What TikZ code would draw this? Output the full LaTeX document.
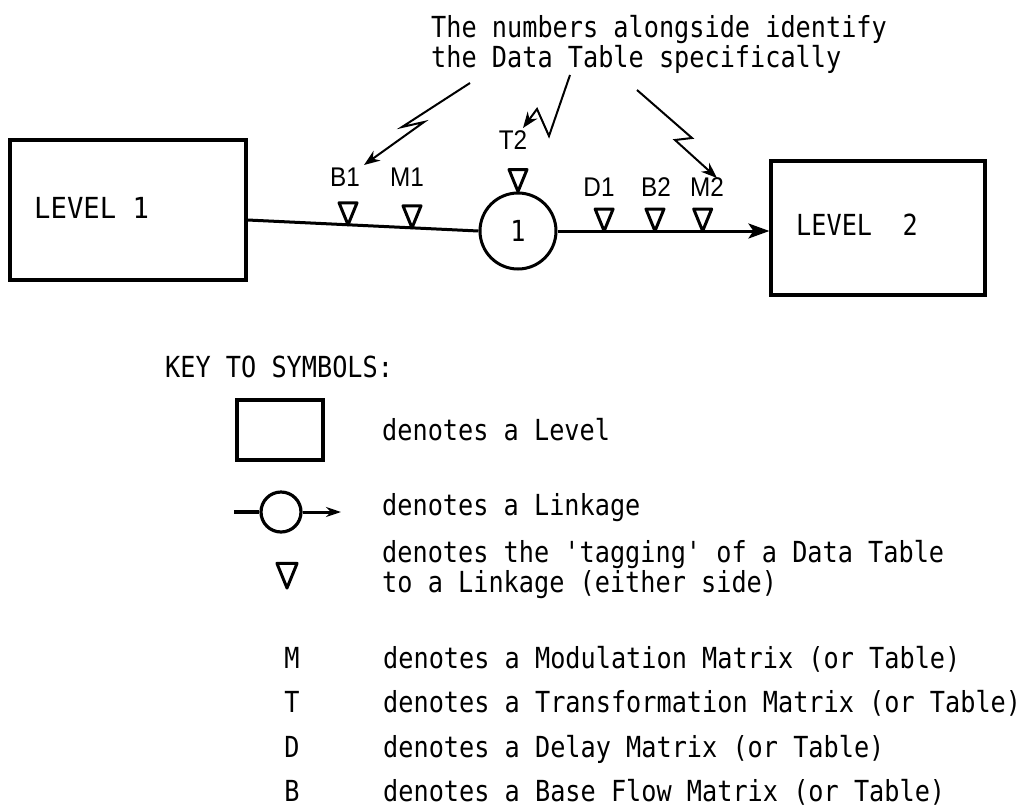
\documentclass[tikz,border=0pt]{standalone}
\usepackage{fontspec}
\newfontfamily\tw[FakeStretch=0.87,Ligatures=TeXOff]{DejaVu Sans Mono}
\newfontfamily\twbig[FakeStretch=0.94,Ligatures=TeXOff]{DejaVu Sans Mono}
\newfontfamily\lab[FakeStretch=0.9]{Liberation Sans}
\usetikzlibrary{arrows.meta,calc}
\begin{document}
\begin{tikzpicture}[x=1pt,y=-1pt,
  txt/.style={font=\tw\fontsize{29}{30}\selectfont, inner sep=0pt, anchor=base west},
  bigtxt/.style={font=\twbig\fontsize{29}{30}\selectfont, inner sep=0pt, anchor=base west},
  lbl/.style={font=\lab\fontsize{27}{27}\selectfont, inner sep=0pt},
  levelbox/.style={draw, line width=3.2pt, inner sep=0pt},
  link/.style={draw, circle, line width=3pt, minimum size=76pt, inner sep=0pt},
  flow/.style={line width=3pt},
  bolt/.style={line width=2pt, line join=miter, -{Stealth[length=16pt,width=12pt]}},
  tag/.pic={\draw[line width=3pt, line join=round] (0,0) -- (-9,-22) -- (9,-22) -- cycle;}
]
\useasboundingbox (0,0) rectangle (1027,806);

% top note
\node[txt] (note1) at (431,37) {The numbers alongside identify};
\node[txt] (note2) at (431,67) {the Data Table specifically};

% levels and linkage
\node[levelbox, minimum width=236pt, minimum height=140pt] (lv1) at (128,210) {};
\node[bigtxt] (lv1t) at (34,218) {LEVEL 1};
\node[levelbox, minimum width=214pt, minimum height=134pt] (lv2) at (878,228) {};
\node[txt] (lv2t) at (796,235) {LEVEL\ \ 2};
\node[link, font=\tw\fontsize{29}{30}\selectfont] (c1) at (518,231) {1};

\coordinate (L1) at ([yshift=-10pt]lv1.east);
\coordinate (L2) at (lv2.west |- c1.east);
\draw[flow] (L1) -- (c1.west);
\draw[flow, -{Stealth[length=21pt,width=15pt,inset=5pt]}] (c1.east) -- (L2);

% tags
\pic at ($(L1)!0.435!(c1.west)$) {tag};
\pic at ($(L1)!0.712!(c1.west)$) {tag};
\pic at (c1.north) {tag};
\pic at ($(c1.east)!0.22!(L2)$) {tag};
\pic at ($(c1.east)!0.46!(L2)$) {tag};
\pic at ($(c1.east)!0.685!(L2)$) {tag};

\node[lbl] (b1) at (345,177) {B1};
\node[lbl] (m1) at (407,177) {M1};
\node[lbl] (t2) at (513,140) {T2};
\node[lbl] (d1) at (599,187) {D1};
\node[lbl] (b2) at (656,187) {B2};
\node[lbl] (m2) at (707,187) {M2};

% lightning arrows
\coordinate (bs1) at (470,83);
\coordinate (bt1) at (364,165);
\coordinate (bs2) at (570,75);
\coordinate (bt2) at (523,128);
\coordinate (bs3) at (637,90);
\coordinate (bt3) at (717,178);
\draw[bolt] (bs1) -- (402,127) -- (424,122) -- (bt1);
\draw[bolt] (bs2) -- (549,136) -- (537,109) -- (bt2);
\draw[bolt] (bs3) -- (692,138) -- (675,140) -- (bt3);

% key
\node[txt] (key) at (165,377) {KEY TO SYMBOLS:};
\node[levelbox, line width=3.4pt, minimum width=86pt, minimum height=60pt] (klev) at (280,430) {};
\node[txt] (klevt) at (382,440) {denotes a Level};

\node[link, minimum size=40pt, line width=3.2pt] (kc) at (281,512) {};
\coordinate (kl) at (234,512);
\coordinate (kr) at (341,512);
\draw[flow, line width=3.4pt] (kl) -- (kc.west);
\draw[flow, line width=3pt, -{Stealth[length=15pt,width=10pt]}] (kc.east) -- (kr);
\node[txt] (klinkt) at (382,515) {denotes a Linkage};

\pic[scale=1.12] at (287,588) {tag};
\node[txt] (ktag1) at (382,562) {denotes the 'tagging' of a Data Table};
\node[txt] (ktag2) at (382,592) {to a Linkage (either side)};

\node[txt, anchor=base] (km) at (292,668) {M};
\node[txt] (kmt) at (383,668) {denotes a Modulation Matrix (or Table)};
\node[txt, anchor=base] (kt) at (292,712) {T};
\node[txt] (ktt) at (383,712) {denotes a Transformation Matrix (or Table)};
\node[txt, anchor=base] (kd) at (292,757) {D};
\node[txt] (kdt) at (383,757) {denotes a Delay Matrix (or Table)};
\node[txt, anchor=base] (kb) at (292,801) {B};
\node[txt] (kbt) at (383,801) {denotes a Base Flow Matrix (or Table)};
\end{tikzpicture}
\end{document}
